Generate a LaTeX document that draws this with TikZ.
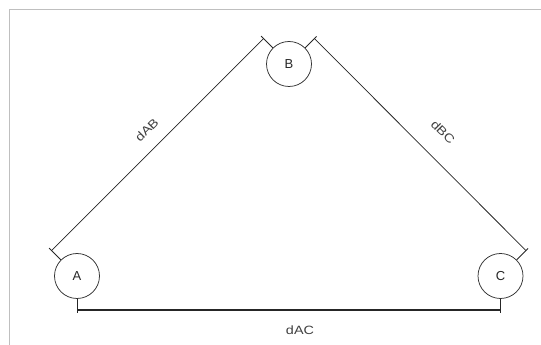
\documentclass[tikz,border=0pt]{standalone}
\usepackage{fontspec}
\setmainfont{Liberation Sans}
\usetikzlibrary{calc}
\newcommand{\widelabel}[1]{\scalebox{1.2}[1]{#1}}
\begin{document}
\begin{tikzpicture}[x=1pt,y=1pt,
  station/.style={circle,draw=black!80,line width=0.75pt,minimum size=45pt,inner sep=0pt,font=\fontsize{13}{15}\selectfont,text=black!85},
  dimline/.style={draw=black!85,line width=0.75pt},
  dimlabel/.style={font=\fontsize{12}{14}\selectfont,text=black!75,inner sep=0pt},
  frameline/.style={draw=black!25,line width=0.8pt}]
\useasboundingbox (0,0) rectangle (541,345);
\draw[frameline] (9,0) -- (9,336) -- (541,336);
\node[station] (A) at (77,69) {A};
\node[station] (B) at (289,281) {B};
\node[station] (C) at (500.5,69) {C};
% extension line ends
\coordinate (a1) at ($(A)+(135:39.5pt)$);
\coordinate (b1) at ($(B)+(135:39.5pt)$);
\coordinate (b2) at ($(B)+(45:39pt)$);
\coordinate (c2) at ($(C)+(45:39pt)$);
\coordinate (da1) at ($(A)+(135:36pt)$);
\coordinate (db1) at ($(B)+(135:36pt)$);
\coordinate (db2) at ($(B)+(45:36pt)$);
\coordinate (dc2) at ($(C)+(45:36pt)$);
\coordinate (a3) at ($(A)+(0,-37pt)$);
\coordinate (c3) at ($(C)+(0,-37pt)$);
\coordinate (da3) at ($(A)+(0,-34pt)$);
\coordinate (dc3) at ($(C)+(0,-34pt)$);
% AB
\draw[dimline] (A.135) -- (a1);
\draw[dimline] (B.135) -- (b1);
\draw[dimline] (da1) -- (db1);
% BC
\draw[dimline] (B.45) -- (b2);
\draw[dimline] (C.45) -- (c2);
\draw[dimline] (db2) -- (dc2);
% AC
\draw[dimline] (A.south) -- (a3);
\draw[dimline] (C.south) -- (c3);
\draw[dimline,line width=1.1pt] (da3) -- (dc3);
% labels
\node[dimlabel,rotate=45] (lab) at (146.7,215) {\widelabel{dAB}};
\node[dimlabel,rotate=-45] (lbc) at (443,213) {\widelabel{dBC}};
\node[dimlabel] (lac) at (300,15) {\widelabel{dAC}};
\end{tikzpicture}
\end{document}
